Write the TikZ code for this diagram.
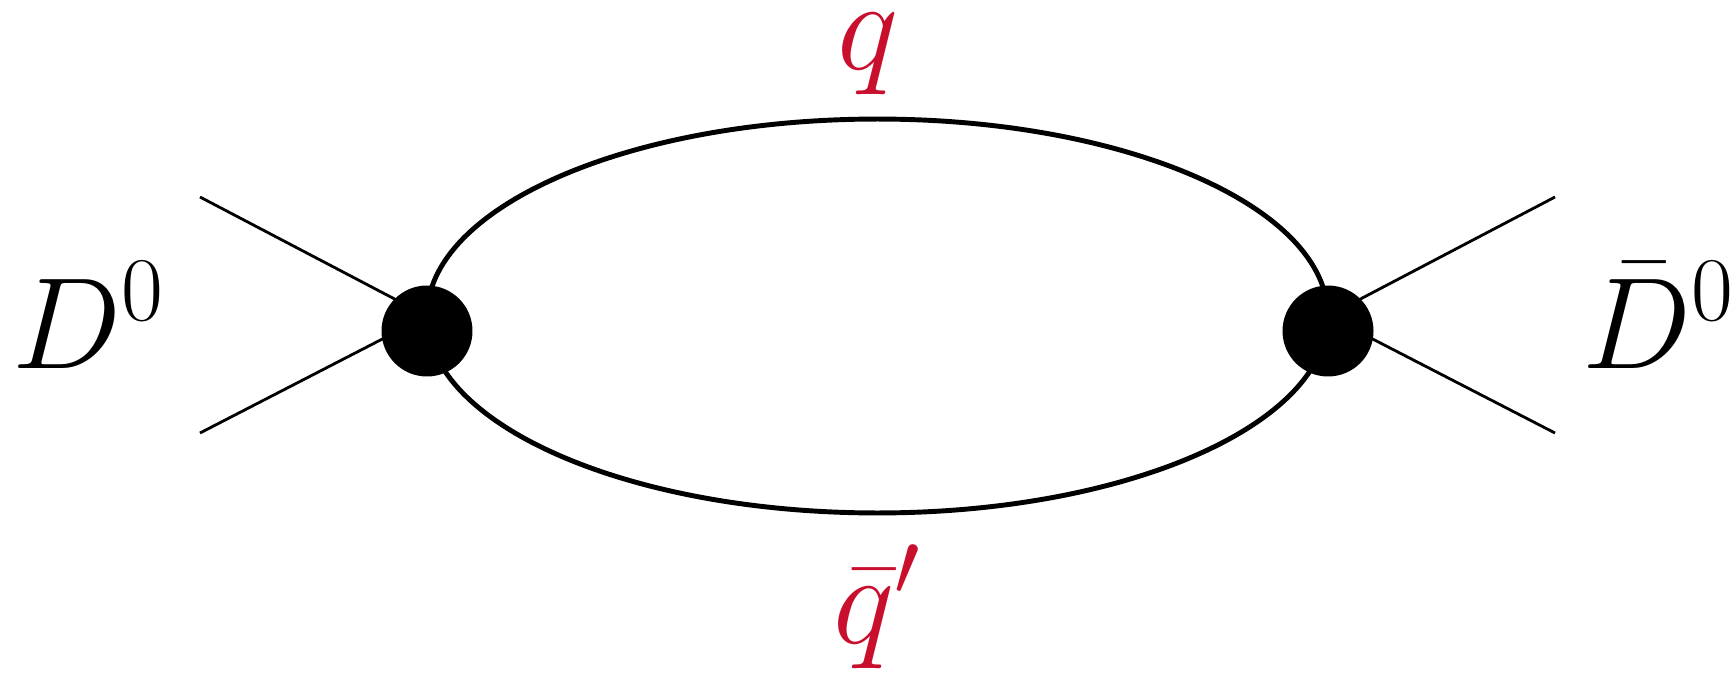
\documentclass[tikz,border=0pt]{standalone}
\usepackage{fix-cm}
\usetikzlibrary{positioning}
\definecolor{qred}{HTML}{C8102E}

\begin{document}
\begin{tikzpicture}[x=0.02cm,y=0.02cm,
  blob/.style={circle,fill=black,inner sep=0pt,minimum size=1.82cm},
  quark/.style={line width=2.8pt},
  leg/.style={line width=1.6pt},
  meson/.style={font=\fontsize{74}{90}\selectfont,anchor=base west,inner sep=0pt},
  flavour/.style={font=\fontsize{74}{90}\selectfont,text=qred,anchor=base,inner sep=0pt}
]
  \useasboundingbox (0,0) rectangle (1736,677);

  % ---- vertices and outer legs --------------------------------
  \coordinate (vL) at (427,361);
  \coordinate (vR) at (1328,361);
  \coordinate (inA) at (200,480);
  \coordinate (inB) at (200,244);
  \coordinate (outA) at (1555,480);
  \coordinate (outB) at (1555,244);

  \draw[leg] (inA) -- (vL);
  \draw[leg] (inB) -- (vL);
  \draw[leg] (vR) -- (outA);
  \draw[leg] (vR) -- (outB);

  % ---- quark loop ---------------------------------------------
  \draw[quark] (vL) arc[start angle=180,end angle=0,x radius=9.01cm,y radius=3.94cm];
  \draw[quark] (vL) arc[start angle=180,end angle=360,x radius=9.01cm,y radius=3.94cm];

  \node[blob] (dotL) at (427,346) {};
  \node[blob] (dotR) at (1328,346) {};

  % ---- labels -------------------------------------------------
  \node[meson] (Din) at (12,309) {$D^0$};
  \node[meson] (Dout) at (1582,309) {$\bar{D}^0$};
  \node[flavour] (qtop) at (868,607) {$q$};
  \node[flavour] (qbot) at (877,34) {$\bar{q}'$};

\end{tikzpicture}
\end{document}
